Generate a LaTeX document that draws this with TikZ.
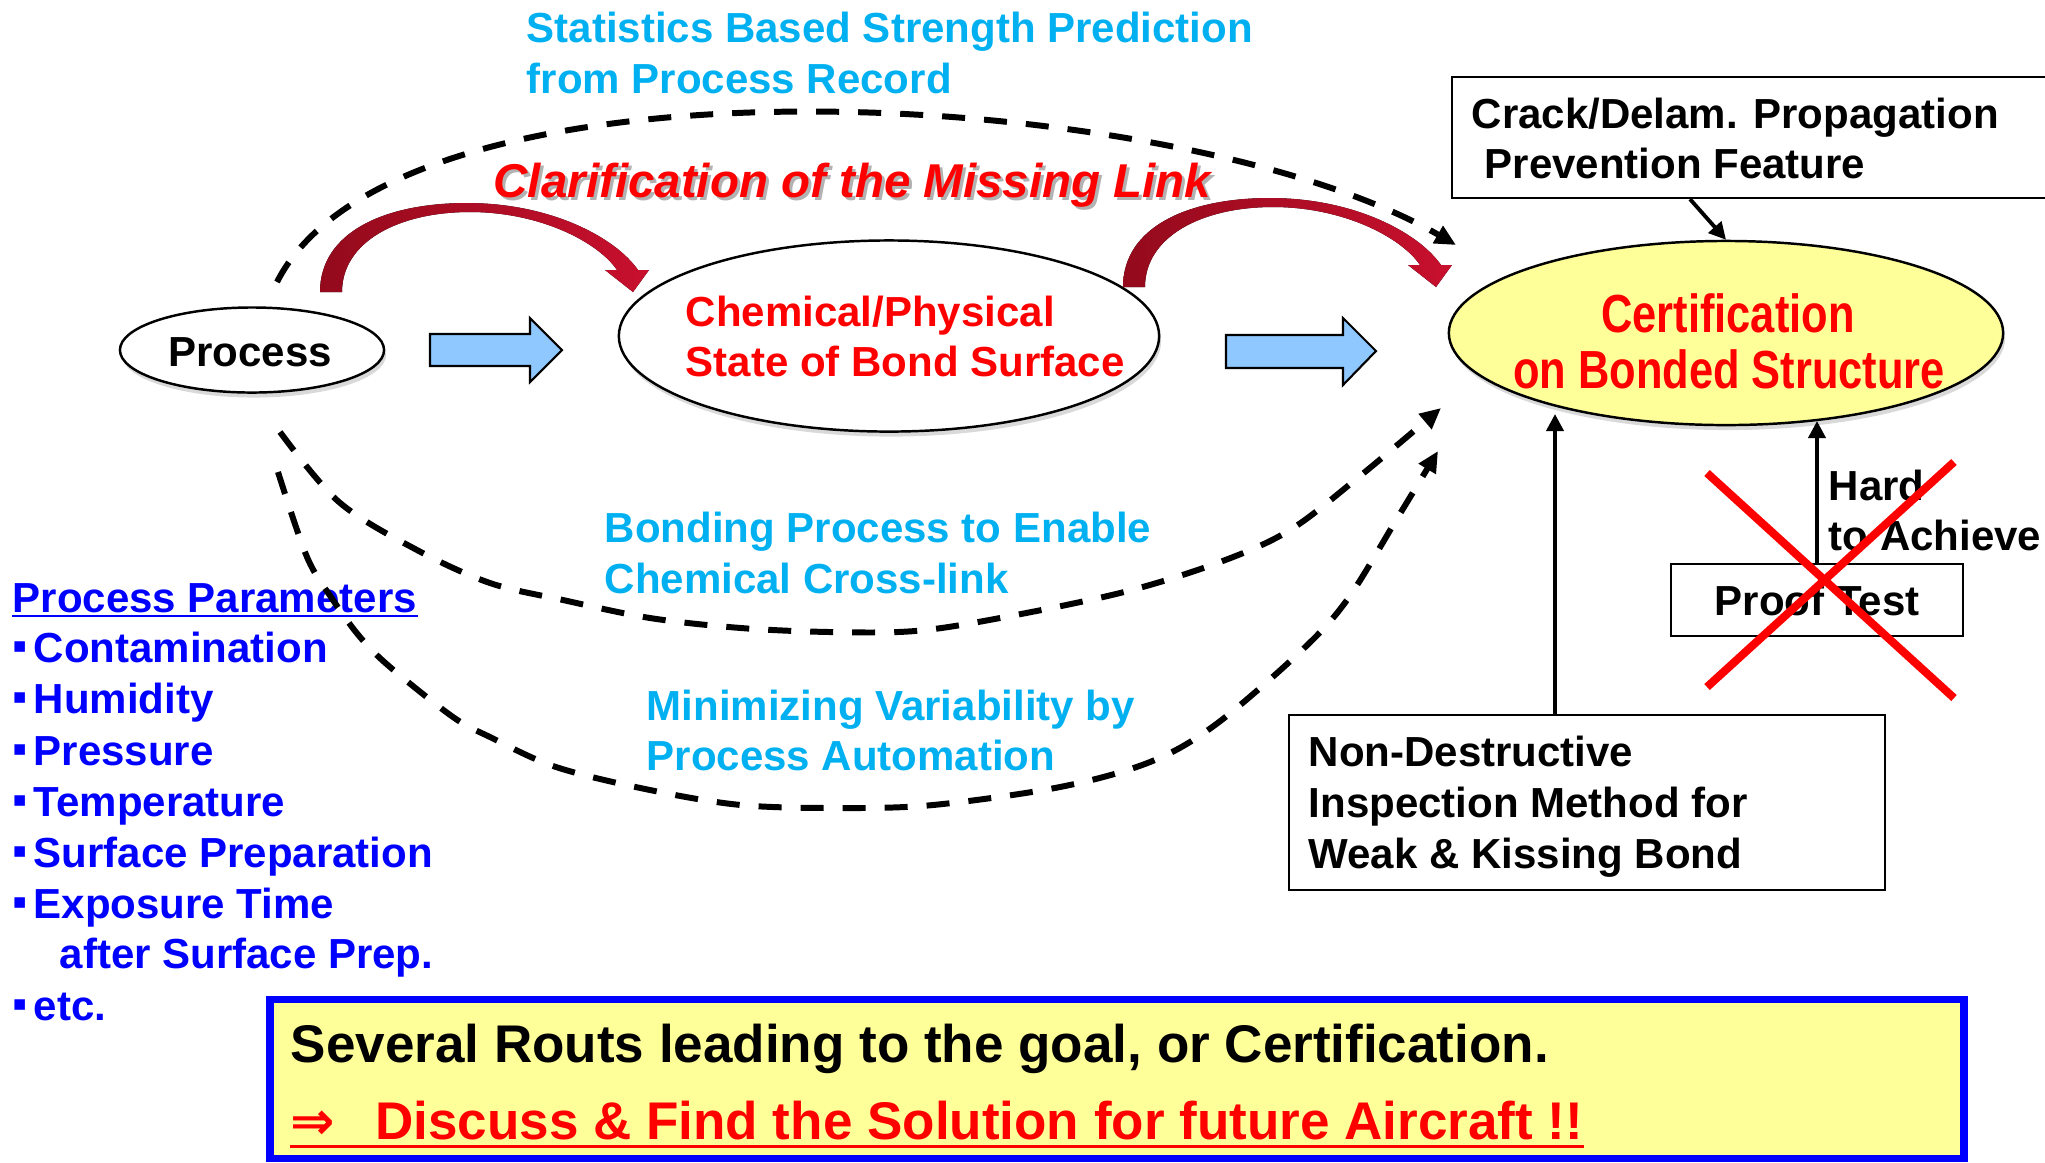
\documentclass[tikz,border=0pt]{standalone}
\usepackage{fontspec}
\usepackage{graphicx}
\setmainfont{Liberation Sans}
\newfontfamily\dvs{DejaVu Sans}
\usetikzlibrary{arrows.meta,shapes.geometric,shadows}
\definecolor{cyanT}{HTML}{00B0F0}
\definecolor{redT}{HTML}{FF0000}
\definecolor{blueT}{HTML}{0000FF}
\definecolor{paleY}{HTML}{FFFF99}
\definecolor{skyB}{HTML}{8EC8FF}
\definecolor{rdA}{HTML}{940A1C}
\definecolor{rdB}{HTML}{C8102E}
% small square bullet in front of each parameter
\newcommand\bul{\makebox[0.21cm][l]{\raisebox{0.1cm}{\dvs\fontsize{6pt}{6pt}\selectfont ▪}}}
\begin{document}
\begin{tikzpicture}[x=0.01cm,y=-0.01cm,
  txt/.style={inner sep=0pt, anchor=base west, font=\bfseries\fontsize{11.95pt}{14pt}\selectfont},
  ctxt/.style={txt, anchor=base},
  big/.style={inner sep=0pt, anchor=base west, font=\bfseries\fontsize{15.08pt}{18pt}\selectfont},
  certtxt/.style={inner sep=0pt, anchor=base, text=redT, font=\bfseries\fontsize{15.25pt}{18pt}\selectfont},
  ell/.style={ellipse, draw, line width=0.7pt, fill=white, inner sep=0pt,
    drop shadow={opacity=0.3, shadow xshift=0.02cm, shadow yshift=-0.05cm}},
  box/.style={rectangle, draw, line width=0.6pt, fill=white, inner sep=0pt},
  blk/.style={draw, line width=0.6pt, fill=skyB, line join=miter},
  dsh/.style={line width=1.7pt, dash pattern=on 0.23cm off 0.19cm,
    -{Triangle[length=0.21cm,width=0.19cm]}},
  sarr/.style={line width=1.1pt, -{Triangle[length=0.17cm,width=0.17cm]}},
  xline/.style={redT, line width=2.3pt},
  bendarrow/.pic={
    \fill[left color=rdA, right color=rdB]
      (0,0) .. controls (0,-60) and (65,-89) .. (147,-89)
      .. controls (230,-89) and (295,-55) .. (318,-22)
      -- (329,-22) -- (313,0) -- (285,-22) -- (297,-22)
      .. controls (278,-50) and (220,-80) .. (150,-80)
      .. controls (78,-80) and (22,-50) .. (22,0) -- cycle;
  }
]
\useasboundingbox (0,0) rectangle (2045,1162);

% ---- headline routes ----
\node[txt, text=cyanT] (st1) at (526,42) {Statistics Based Strength Prediction};
\node[txt, text=cyanT] (st2) at (526,93) {from Process Record};

\node[inner sep=0pt, anchor=base west, font=\bfseries\itshape\fontsize{13.5pt}{16pt}\selectfont,
      text=black, opacity=0.3] (clsh) at (496,200) {Clarification of the Missing Link};
\node[inner sep=0pt, anchor=base west, font=\bfseries\itshape\fontsize{13.5pt}{16pt}\selectfont,
      text=redT] (cl) at (493,197) {Clarification of the Missing Link};

% ---- main chain ----
\node[ell, minimum width=2.64cm, minimum height=0.85cm] (proc) at (252,350) {};
\node[ctxt] (proct) at (250,366) {Process};

\node[ell, minimum width=5.40cm, minimum height=1.91cm] (chem) at (889,336) {};
\node[txt, text=redT] (ch1) at (685,326) {Chemical/Physical};
\node[txt, text=redT] (ch2) at (685,376) {State of Bond Surface};

\node[ell, fill=paleY, minimum width=5.54cm, minimum height=1.84cm] (cert) at (1726,333) {};
\node[certtxt] (ce1) at (1728,332) {\scalebox{0.81}[1]{Certification}};
\node[certtxt] (ce2) at (1729,388) {\scalebox{0.81}[1]{on Bonded Structure}};

% block arrows between the stages
\draw[blk] (430,334) -- (530,334) -- (530,318) -- (562,350) -- (530,382) -- (530,366) -- (430,366) -- cycle;
\draw[blk] (1226,335) -- (1343,335) -- (1343,318) -- (1376,351) -- (1343,385) -- (1343,368) -- (1226,368) -- cycle;

% curved "missing link" arrows
\pic at (320,292) {bendarrow};
\pic at (1123,287) {bendarrow};

% ---- supporting boxes ----
\node[box, minimum width=5.96cm, minimum height=1.21cm] (crack) at (1750,137.5) {};
\node[txt] (ck1) at (1471,128) {Crack/Delam. Propagation};
\node[txt] (ck2) at (1484,178) {Prevention Feature};
\draw[sarr] ([xshift=-0.6cm]crack.south) -- (cert.north);

\node[box, minimum width=5.96cm, minimum height=1.75cm] (ndi) at (1587,802.5) {};
\node[txt] (nd1) at (1308,766) {Non-Destructive};
\node[txt] (nd2) at (1308,817) {Inspection Method for};
\node[txt] (nd3) at (1308,868) {Weak \& Kissing Bond};
\coordinate (nditip) at (1555,414);
\draw[sarr] (ndi.north -| nditip) -- (nditip);

\node[box, minimum width=2.92cm, minimum height=0.72cm] (proof) at (1817,600) {};
\node[ctxt] (prt) at (1817,615) {Proof Test};
\coordinate (prooftip) at (1817,421);
\draw[sarr] (proof.north) -- (prooftip);
\node[txt] (hd1) at (1828,500) {Hard};
\node[txt] (hd2) at (1828,550) {to Achieve};
\draw[xline] (1707,473) -- (1954,698);
\draw[xline] (1707,687) -- (1954,462);

% ---- route labels ----
\node[txt, text=cyanT] (bd1) at (604,542) {Bonding Process to Enable};
\node[txt, text=cyanT] (bd2) at (604,593) {Chemical Cross-link};
\node[txt, text=cyanT] (mv1) at (646,720) {Minimizing Variability by};
\node[txt, text=cyanT] (mv2) at (646,770) {Process Automation};

% ---- process parameter list ----
\node[txt, text=blueT] (pp) at (12,612) {Process Parameters};
\draw[blueT, line width=0.6pt] ([yshift=-0.04cm]pp.base west) -- ([yshift=-0.04cm]pp.base east);
\node[txt, text=blueT] (pa1) at (12,662) {\bul Contamination};
\node[txt, text=blueT] (pa2) at (12,713) {\bul Humidity};
\node[txt, text=blueT] (pa3) at (12,765) {\bul Pressure};
\node[txt, text=blueT] (pa4) at (12,816) {\bul Temperature};
\node[txt, text=blueT] (pa5) at (12,867) {\bul Surface Preparation};
\node[txt, text=blueT] (pa6) at (12,918) {\bul Exposure Time};
\node[txt, text=blueT] (pa7) at (59,968) {after Surface Prep.};
\node[txt, text=blueT] (pa8) at (12,1020) {\bul etc.};

% ---- dashed routes from the process to certification ----
\coordinate (r0s) at (277,282);
\coordinate (r0e) at (1456,245);
\draw[dsh] (r0s) .. controls (400,40) and (1180,85) .. (r0e);

\coordinate (r1s) at (280,432);
\coordinate (r1e) at (1441,408);
\draw[dsh] plot[smooth, tension=0.55] coordinates {(r1s) (339,502) (417,550) (490,583) (563,600)
  (650,618) (741,628) (830,632) (915,631) (1000,618) (1124,592) (1220,562) (1290,530) (1360,476) (r1e)};

\coordinate (r2s) at (278,472);
\coordinate (r2e) at (1438,451);
\draw[dsh] plot[smooth, tension=0.55] coordinates {(r2s) (307,557) (333,600) (360,637) (390,667)
  (453,717) (490,737) (556,767) (650,790) (741,805) (840,808) (933,805) (1060,787) (1150,762)
  (1215,725) (1300,652) (1347,600) (1398,517) (r2e)};

% ---- conclusion box ----
\node[rectangle, draw=blueT, line width=2pt, fill=paleY, minimum width=16.93cm,
      minimum height=1.59cm, inner sep=0pt] (goal) at (1117,1079) {};
\node[big] (g1) at (290,1062) {Several Routs leading to the goal, or Certification.};
\node[big, text=redT] (g2) at (290,1139) {{\dvs\bfseries ⇒}\hspace{0.4cm}Discuss \& Find the Solution for future Aircraft !!};
\draw[redT, line width=0.85pt] ([yshift=-0.07cm]g2.base west) -- ([yshift=-0.07cm]g2.base east);
\end{tikzpicture}
\end{document}
